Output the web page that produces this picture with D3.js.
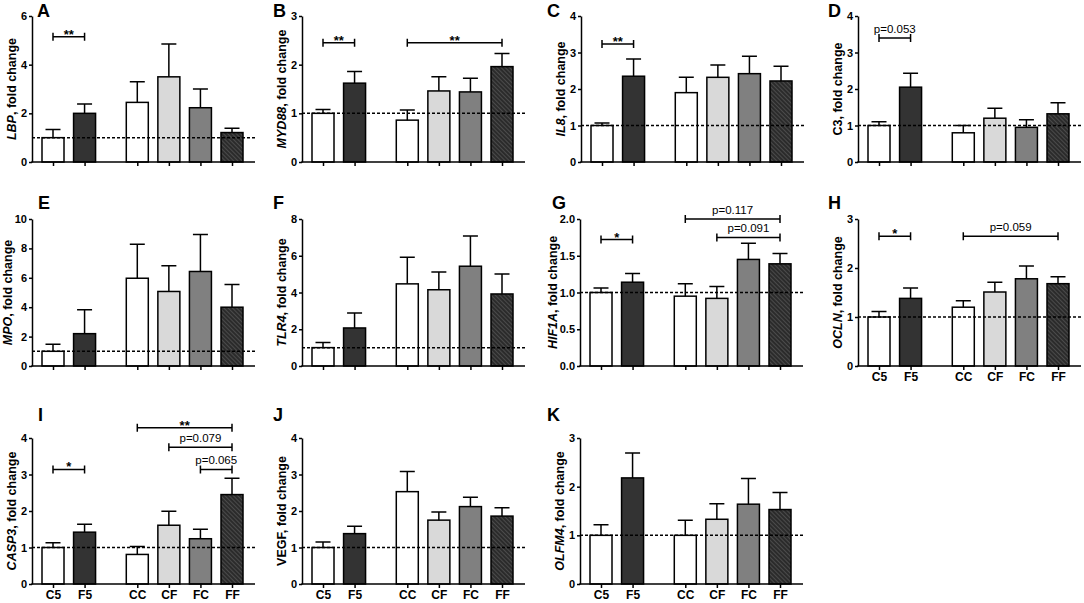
<!DOCTYPE html>
<html>
<head>
<meta charset="utf-8">
<script src="https://cdn.jsdelivr.net/npm/d3@7"></script>
<style>
body{margin:0;background:#fff}
text{font-family:Arial,"Liberation Sans",sans-serif}
</style>
</head>
<body>
<div id="chart"></div>
<script>
// groups and panels
var groups = ["C5","F5","CC","CF","FC","FF"];
var genes = ["LBP","MYD88","IL8","C3","MPO","TLR4","HIF1A","OCLN","CASP3","VEGF","OLFM4"];
var letters = ["A","B","C","D","E","F","G","H","I","J","K"];
var italicGene = [true,true,true,false,true,true,true,true,true,false,true];
var yMax = [6,3,4,4,10,8,2,3,4,4,3];
var yStep = [2,1,1,1,2,2,0.5,1,1,1,1];
var yDecimals = [0,0,0,0,0,0,1,0,0,0,0];

// means (fold change) and SEM, order C5 F5 CC CF FC FF
var meanLBP = [1.0,2.0,2.45,3.5,2.23,1.21],    semLBP = [0.34,0.38,0.85,1.35,0.77,0.18];
var meanMYD88 = [1.0,1.62,0.86,1.46,1.44,1.96], semMYD88 = [0.08,0.24,0.21,0.29,0.28,0.27];
var meanIL8 = [1.0,2.35,1.9,2.32,2.42,2.22],    semIL8 = [0.07,0.47,0.42,0.34,0.48,0.40];
var meanC3 = [1.0,2.05,0.8,1.2,0.95,1.32],      semC3 = [0.1,0.38,0.2,0.27,0.21,0.30];
var meanMPO = [1.0,2.2,5.97,5.07,6.43,4.0],     semMPO = [0.48,1.62,2.31,1.75,2.52,1.55];
var meanTLR4 = [1.0,2.07,4.47,4.15,5.43,3.92],  semTLR4 = [0.28,0.81,1.45,0.97,1.65,1.09];
var meanHIF1A = [1.0,1.14,0.95,0.92,1.45,1.39], semHIF1A = [0.06,0.12,0.17,0.16,0.22,0.14];
var meanOCLN = [1.0,1.38,1.2,1.51,1.78,1.68],   semOCLN = [0.11,0.21,0.13,0.20,0.26,0.14];
var meanCASP3 = [1.0,1.42,0.81,1.61,1.24,2.45], semCASP3 = [0.13,0.22,0.22,0.38,0.26,0.45];
var meanVEGF = [1.0,1.38,2.53,1.75,2.12,1.86],  semVEGF = [0.15,0.20,0.55,0.22,0.26,0.23];
var meanOLFM4 = [1.0,2.18,1.0,1.33,1.64,1.53],  semOLFM4 = [0.22,0.51,0.31,0.32,0.53,0.35];

// significance brackets: from, to, level, label
var sigLBP = [["C5","F5",5.15,"**"]];
var sigMYD88 = [["C5","F5",2.45,"**"],["CC","FF",2.45,"**"]];
var sigIL8 = [["C5","F5",3.23,"**"]];
var sigC3 = [["C5","F5",3.4,"p=0.053"]];
var sigHIF1A = [["C5","F5",1.72,"*"],["CC","FF",2.0,"p=0.117"],["CF","FF",1.75,"p=0.091"]];
var sigOCLN = [["C5","F5",2.65,"*"],["CC","FF",2.65,"p=0.059"]];
var sigCASP3 = [["C5","F5",3.14,"*"],["CC","FF",4.28,"**"],["CF","FF",3.75,"p=0.079"],["FC","FF",3.14,"p=0.065"]];

var means = [meanLBP,meanMYD88,meanIL8,meanC3,meanMPO,meanTLR4,meanHIF1A,meanOCLN,meanCASP3,meanVEGF,meanOLFM4];
var sems = [semLBP,semMYD88,semIL8,semC3,semMPO,semTLR4,semHIF1A,semOCLN,semCASP3,semVEGF,semOLFM4];
var sigs = [sigLBP,sigMYD88,sigIL8,sigC3,[],[],sigHIF1A,sigOCLN,sigCASP3,[],[]];

// layout
var axisX = [32,302,581,858,32,302,580,858,32,302,580];
var letterX = [37,273,547,828,38,273,552,828,38,273,547];
var rowTop = [16,219,438], rowZero = [162,366,584], letterY = [17,209,421];
var fills = ["#ffffff","#333333","#ffffff","#d9d9d9","#808080","url(#hatch)"];
var barW = 22, capW = 15, tickLen = 3;

var svg = d3.select("#chart").append("svg")
  .attr("width",1084).attr("height",603);

var pat = svg.append("defs").append("pattern")
  .attr("id","hatch").attr("patternUnits","userSpaceOnUse")
  .attr("width",3).attr("height",3)
  .attr("patternTransform","rotate(-45)");
pat.append("rect").attr("width",3).attr("height",3).attr("fill","#2b2b2b");
pat.append("line").attr("x1",0).attr("y1",0).attr("x2",0).attr("y2",3)
  .attr("stroke","#666").attr("stroke-width",1.1);

genes.forEach(function(gene,p){
  var row = Math.floor(p/4);
  var x0 = axisX[p];
  var g = svg.append("g");

  var y = d3.scaleLinear().domain([0,yMax[p]]).range([rowZero[row],rowTop[row]]);
  // slot index, with a wider gap between the two experiments
  var x = d3.scaleLinear().domain([0,5.67]).range([x0+21,x0+200]);
  function xc(name){ var i = groups.indexOf(name); return x(i + (i>=2 ? 0.67 : 0)); }
  var xo = d3.scaleOrdinal().domain(groups).range(groups.map(xc));

  // bars
  var rows = groups.map(function(k,i){ return {k:k, m:means[p][i], s:sems[p][i], f:fills[i]}; });
  g.selectAll(".bar").data(rows).enter().append("rect")
    .attr("x",function(d){ return xc(d.k)-barW/2; })
    .attr("y",function(d){ return y(d.m); })
    .attr("width",barW)
    .attr("height",function(d){ return y(0)-y(d.m); })
    .attr("fill",function(d){ return d.f; })
    .attr("stroke","#000").attr("stroke-width",1.5);

  // error bars (upper only)
  g.selectAll(".err").data(rows).enter().append("path")
    .attr("d",function(d){
      var cx = xc(d.k), t = y(d.m+d.s);
      return "M"+cx+","+y(d.m)+"V"+t+"M"+(cx-capW/2)+","+t+"H"+(cx+capW/2);
    })
    .attr("fill","none").attr("stroke","#000").attr("stroke-width",1.5);

  // reference line at 1
  g.append("line")
    .attr("x1",x0).attr("x2",x0+223)
    .attr("y1",y(1)).attr("y2",y(1))
    .attr("stroke","#000").attr("stroke-width",1.5)
    .attr("stroke-dasharray","3,2");

  // y axis
  var ya = g.append("g").attr("transform","translate("+x0+",0)")
    .call(d3.axisLeft(y).tickValues(d3.range(0,yMax[p]+1e-9,yStep[p]))
      .tickSize(tickLen).tickPadding(2).tickSizeOuter(0)
      .tickFormat(d3.format("."+yDecimals[p]+"f")));
  ya.select(".domain").attr("stroke-width",1.5);
  ya.selectAll(".tick line").attr("stroke-width",1.5);
  ya.selectAll(".tick text").attr("font-size",11).attr("font-weight","bold")
    .attr("font-family","Arial, 'Liberation Sans', sans-serif").attr("fill","#000");
  var tickW = 0;
  ya.selectAll(".tick text").each(function(){ tickW = Math.max(tickW, this.getComputedTextLength()); });

  // x axis
  var xa = g.append("g").attr("transform","translate(0,"+y(0)+")")
    .call(d3.axisBottom(xo).tickSize(4).tickSizeOuter(0));
  xa.select(".domain").remove();
  xa.selectAll(".tick line").attr("stroke-width",1.5);
  xa.selectAll(".tick text").attr("font-size",12).attr("font-weight","bold")
    .attr("font-family","Arial, 'Liberation Sans', sans-serif").attr("fill","#000")
    .attr("y",6);
  if (p < 7) xa.selectAll(".tick text").remove();
  g.append("line").attr("x1",x0-0.75).attr("x2",x0+223)
    .attr("y1",y(0)).attr("y2",y(0))
    .attr("stroke","#000").attr("stroke-width",1.5);

  // y title
  var mid = (rowTop[row]+rowZero[row])/2;
  var tx = Math.min(x0-20, x0-tickLen-2-tickW-7);
  var tt = g.append("text")
    .attr("transform","translate("+tx+","+mid+") rotate(-90)")
    .attr("text-anchor","middle").attr("dy","0.35em")
    .attr("font-size",12.5).attr("font-weight","bold");
  tt.append("tspan").attr("font-style",italicGene[p] ? "italic" : "normal").text(gene);
  tt.append("tspan").text(", fold change");

  // panel letter
  g.append("text").attr("x",letterX[p]).attr("y",letterY[row])
    .attr("font-size",18).attr("font-weight","bold").text(letters[p]);

  // brackets
  sigs[p].forEach(function(s){
    var a = xc(s[0]), b = xc(s[1]), yy = y(s[2]);
    g.append("path")
      .attr("d","M"+a+","+(yy-4)+"V"+(yy+4)+"M"+a+","+yy+"H"+b+"M"+b+","+(yy-4)+"V"+(yy+4))
      .attr("fill","none").attr("stroke","#000").attr("stroke-width",1.5);
    var star = s[3].charAt(0) === "*";
    g.append("text").attr("x",(a+b)/2).attr("y",star ? yy+2 : yy-5)
      .attr("text-anchor","middle")
      .attr("font-size",star ? 13 : 11.5)
      .attr("font-weight",star ? "bold" : "normal")
      .text(s[3]);
  });
});
</script>
</body>
</html>
